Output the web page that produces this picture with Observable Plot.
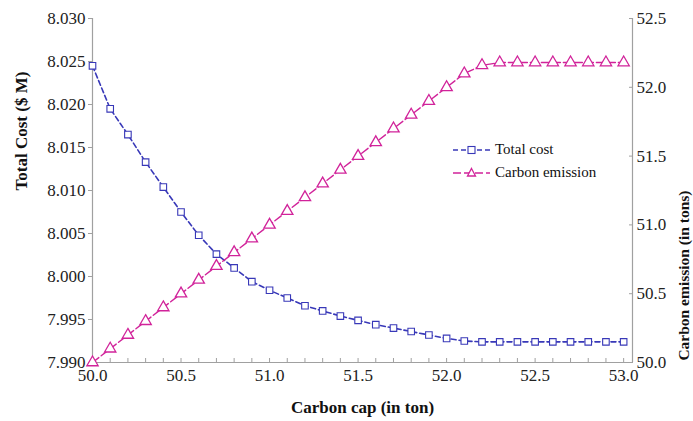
<!DOCTYPE html>
<html><head><meta charset="utf-8">
<script src="https://cdn.jsdelivr.net/npm/d3@7"></script>
<script src="https://cdn.jsdelivr.net/npm/@observablehq/plot@0.6"></script>
<style>
body{margin:0;background:#fff;font-family:"Liberation Serif","Times New Roman",serif;}
#wrap{position:relative;width:693px;height:421px;}
#legend{position:absolute;left:453px;top:138px;font-size:15px;color:#111;line-height:23px;}
#legend div{display:flex;align-items:center;}
#legend svg{margin-right:5px;}
</style></head>
<body><div id="wrap"><div id="legend"></div></div>
<script>
const carbonCap = [50.0,50.1,50.2,50.3,50.4,50.5,50.6,50.7,50.8,50.9,51.0,51.1,51.2,51.3,51.4,51.5,51.6,51.7,51.8,51.9,52.0,52.1,52.2,52.3,52.4,52.5,52.6,52.7,52.8,52.9,53.0];
const totalCost = [8.0245,8.0195,8.0165,8.0133,8.0104,8.0075,8.0048,8.0026,8.0010,7.9994,7.9984,7.9975,7.9966,7.9960,7.9954,7.9949,7.9944,7.9940,7.9936,7.9932,7.9928,7.9925,7.9924,7.9924,7.9924,7.9924,7.9924,7.9924,7.9924,7.9924,7.9924];
const carbonEmission = [50.0,50.1,50.2,50.3,50.4,50.5,50.6,50.7,50.8,50.9,51.0,51.1,51.2,51.3,51.4,51.5,51.6,51.7,51.8,51.9,52.0,52.1,52.16,52.18,52.18,52.18,52.18,52.18,52.18,52.18,52.18];
const costTicks = [7.990,7.995,8.000,8.005,8.010,8.015,8.020,8.025,8.030];
const emissionTicks = [50.0,50.5,51.0,51.5,52.0,52.5];
const capTicks = [50.0,50.5,51.0,51.5,52.0,52.5,53.0];
const capMinorTicks = d3.range(0,31).map(i => +(50 + i*0.1).toFixed(1));
const seriesNames = ["Total cost","Carbon emission"];

const blue = "#3838b8", magenta = "#d1239a", axisGray = "#a0a0a0";
const costMin = 7.990, costMax = 8.030, emMin = 50.0, emMax = 52.5;
const emToCost = v => costMin + (v - emMin) * (costMax - costMin) / (emMax - emMin);
const costToEm = c => emMin + (c - costMin) * (emMax - emMin) / (costMax - costMin);

const rows = carbonCap.map((x,i) => ({x, cost: totalCost[i], em: carbonEmission[i]}));
const serif = "Liberation Serif, Times New Roman, serif";

const chart = Plot.plot({
  width: 693, height: 421,
  marginLeft: 92, marginRight: 61, marginTop: 18, marginBottom: 59,
  style: {fontFamily: serif, fontSize: "17px", color: "#222", background: "#fff"},
  x: {domain: [50, 53.05]},
  y: {domain: [costMin, costMax]},
  marks: [
    Plot.ruleX([50, 53.05], {stroke: axisGray, strokeWidth: 1.2}),
    Plot.ruleY([costMin], {stroke: axisGray, strokeWidth: 1.2}),
    Plot.axisY(costTicks, {anchor: "left", tickSize: 4, tickPadding: 3, stroke: axisGray, fill: "#222", tickFormat: d => d.toFixed(3), label: null}),
    Plot.axisY(emissionTicks.map(emToCost), {anchor: "right", tickSize: -4, tickPadding: 8, stroke: axisGray, fill: "#222", tickFormat: d => costToEm(d).toFixed(1), label: null}),
    Plot.axisX(capMinorTicks, {anchor: "bottom", tickSize: -4, stroke: axisGray, tickFormat: () => "", label: null}),
    Plot.axisX(capTicks, {anchor: "bottom", tickSize: 0, tickPadding: 6, fill: "#222", tickFormat: d => d.toFixed(1), label: null}),
    Plot.line(rows, {x: "x", y: "cost", stroke: blue, strokeWidth: 1.6, strokeDasharray: "5,3"}),
    Plot.dot(rows, {x: "x", y: "cost", symbol: "square", r: 3.7, stroke: blue, strokeWidth: 1.1, fill: "white"}),
    Plot.line(rows, {x: "x", y: d => emToCost(d.em), stroke: magenta, strokeWidth: 1.4, strokeDasharray: "8,3"}),
    Plot.dot(rows, {x: "x", y: d => emToCost(d.em), symbol: "triangle", r: 4.2, stroke: magenta, strokeWidth: 1.3, fill: "white"}),
    Plot.text(["Carbon cap (in ton)"], {frameAnchor: "bottom", dy: 50, fontWeight: "bold", fontSize: 17, fill: "#111"}),
    Plot.text(["Total Cost ($ M)"], {frameAnchor: "left", dx: -71, rotate: -90, fontWeight: "bold", fontSize: 17, fill: "#111"}),
    Plot.text(["Carbon emission (in tons)"], {frameAnchor: "right", dx: 52, rotate: -90, fontWeight: "bold", fontSize: 15.5, fill: "#111"})
  ]
});
document.getElementById("wrap").prepend(chart);

const legend = document.getElementById("legend");
const samples = [
  {name: seriesNames[0], color: blue, dash: "5,3", shape: `<rect x="15" y="6.5" width="7" height="7" fill="white" stroke="${blue}" stroke-width="1.1"/>`},
  {name: seriesNames[1], color: magenta, dash: "8,3", shape: `<path d="M18.5,5.5 L22.5,13 L14.5,13 Z" fill="white" stroke="${magenta}" stroke-width="1.3"/>`}
];
for (const s of samples) {
  const row = document.createElement("div");
  row.innerHTML = `<svg width="37" height="20"><line x1="0" y1="10" x2="37" y2="10" stroke="${s.color}" stroke-width="1.5" stroke-dasharray="${s.dash}"/>${s.shape}</svg><span>${s.name}</span>`;
  legend.appendChild(row);
}
</script>
</body></html>
